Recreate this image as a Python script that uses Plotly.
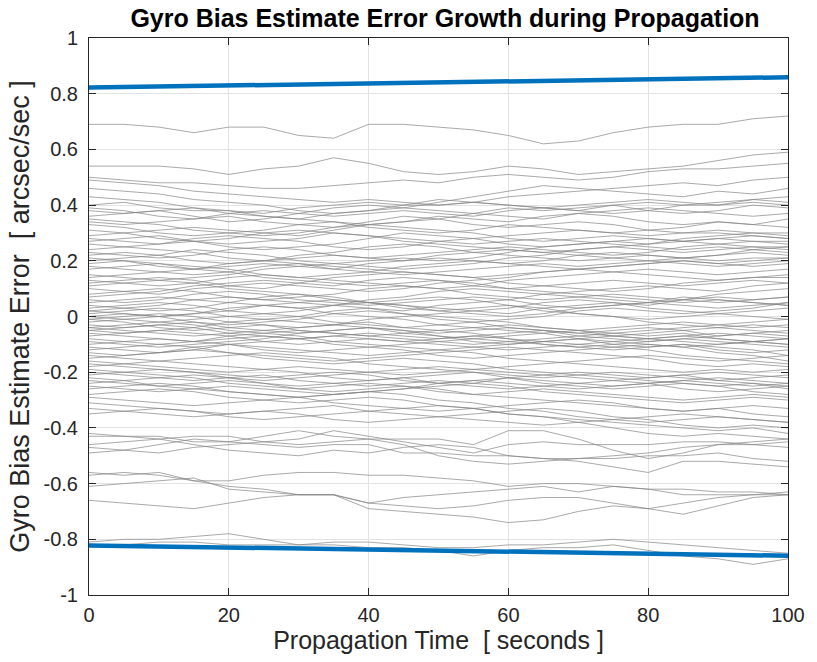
import plotly.graph_objects as go

# ---------------- data ----------------
time_s = [0, 5, 10, 15, 20, 25, 30, 35, 40, 45, 50, 55, 60, 65, 70, 75, 80, 85, 90, 95, 100]

bound_time = [0, 50, 100]
bound_upper = [0.822, 0.841, 0.859]
bound_lower = [-0.822, -0.841, -0.859]

runs_upper = [
    [0.69,0.69,0.68,0.66,0.68,0.68,0.65,0.64,0.69,0.69,0.68,0.67,0.65,0.62,0.63,0.66,0.68,0.69,0.69,0.71,0.72],
    [0.54,0.54,0.54,0.53,0.51,0.53,0.54,0.57,0.55,0.52,0.51,0.52,0.54,0.53,0.51,0.52,0.53,0.54,0.56,0.58,0.59],
    [0.50,0.49,0.48,0.48,0.47,0.46,0.46,0.47,0.48,0.49,0.48,0.50,0.51,0.50,0.49,0.50,0.52,0.53,0.53,0.54,0.55],
    [0.49,0.48,0.47,0.45,0.44,0.43,0.42,0.41,0.42,0.41,0.40,0.41,0.43,0.44,0.45,0.46,0.47,0.48,0.47,0.49,0.50],
    [0.46,0.45,0.44,0.42,0.41,0.40,0.38,0.37,0.38,0.39,0.41,0.43,0.45,0.47,0.46,0.45,0.44,0.43,0.45,0.44,0.46],
    [0.43,0.42,0.41,0.39,0.37,0.36,0.35,0.37,0.38,0.40,0.42,0.41,0.40,0.39,0.38,0.40,0.41,0.40,0.41,0.42,0.43],
    [0.40,0.41,0.39,0.38,0.38,0.37,0.39,0.40,0.41,0.40,0.40,0.41,0.40,0.39,0.38,0.37,0.38,0.40,0.40,0.41,0.40],
    [0.38,0.37,0.38,0.36,0.34,0.35,0.37,0.39,0.40,0.39,0.38,0.37,0.36,0.35,0.37,0.38,0.39,0.38,0.37,0.36,0.37],
    [0.39,0.38,0.36,0.35,0.36,0.34,0.33,0.32,0.34,0.36,0.35,0.37,0.39,0.38,0.39,0.40,0.38,0.37,0.38,0.40,0.39],
    [0.36,0.37,0.38,0.39,0.38,0.36,0.35,0.34,0.33,0.34,0.36,0.35,0.34,0.36,0.37,0.36,0.34,0.33,0.34,0.33,0.32],
    [0.34,0.33,0.34,0.35,0.37,0.38,0.37,0.36,0.37,0.38,0.37,0.36,0.38,0.39,0.40,0.41,0.42,0.41,0.40,0.42,0.41],
    [0.35,0.34,0.33,0.31,0.30,0.29,0.30,0.32,0.33,0.32,0.31,0.30,0.28,0.27,0.28,0.29,0.28,0.27,0.28,0.29,0.28],
    [0.33,0.32,0.30,0.29,0.30,0.31,0.33,0.34,0.32,0.31,0.30,0.31,0.33,0.32,0.31,0.30,0.31,0.32,0.34,0.33,0.35],
    [0.31,0.30,0.28,0.27,0.26,0.27,0.28,0.30,0.29,0.27,0.26,0.25,0.24,0.23,0.24,0.25,0.24,0.23,0.24,0.25,0.24],
    [0.29,0.30,0.31,0.32,0.31,0.30,0.29,0.31,0.33,0.34,0.35,0.33,0.32,0.33,0.34,0.33,0.31,0.30,0.30,0.29,0.28],
    [0.28,0.27,0.26,0.28,0.29,0.28,0.27,0.25,0.24,0.25,0.27,0.28,0.29,0.30,0.31,0.30,0.29,0.30,0.31,0.30,0.30],
    [0.27,0.28,0.29,0.27,0.25,0.24,0.25,0.26,0.28,0.30,0.29,0.28,0.26,0.25,0.26,0.27,0.28,0.27,0.26,0.27,0.26],
    [0.26,0.25,0.24,0.23,0.21,0.20,0.19,0.18,0.17,0.16,0.15,0.14,0.15,0.16,0.17,0.16,0.15,0.14,0.13,0.14,0.15],
]

runs_middle = [
    [0.24,0.25,0.26,0.27,0.28,0.30,0.31,0.30,0.29,0.28,0.27,0.26,0.27,0.28,0.27,0.26,0.25,0.24,0.25,0.24,0.23],
    [0.23,0.22,0.21,0.22,0.24,0.25,0.24,0.22,0.21,0.22,0.23,0.24,0.25,0.24,0.23,0.22,0.23,0.25,0.26,0.25,0.25],
    [0.22,0.23,0.22,0.20,0.19,0.20,0.22,0.23,0.25,0.26,0.25,0.23,0.22,0.21,0.20,0.21,0.22,0.21,0.20,0.21,0.21],
    [0.21,0.20,0.18,0.17,0.18,0.19,0.18,0.17,0.19,0.20,0.21,0.20,0.19,0.20,0.22,0.23,0.22,0.21,0.22,0.23,0.22],
    [0.20,0.21,0.22,0.24,0.23,0.22,0.20,0.19,0.18,0.17,0.18,0.19,0.21,0.22,0.24,0.25,0.26,0.27,0.28,0.27,0.27],
    [0.19,0.20,0.19,0.17,0.16,0.14,0.13,0.12,0.11,0.12,0.13,0.12,0.10,0.09,0.08,0.07,0.06,0.05,0.06,0.05,0.04],
    [0.18,0.17,0.16,0.15,0.16,0.18,0.19,0.17,0.16,0.15,0.16,0.17,0.18,0.19,0.18,0.19,0.20,0.19,0.18,0.19,0.20],
    [0.17,0.18,0.19,0.18,0.17,0.15,0.14,0.15,0.16,0.18,0.19,0.20,0.19,0.18,0.17,0.18,0.19,0.20,0.19,0.18,0.19],
    [0.15,0.14,0.13,0.14,0.15,0.17,0.18,0.19,0.20,0.21,0.20,0.21,0.23,0.25,0.26,0.27,0.26,0.28,0.29,0.30,0.29],
    [0.14,0.15,0.16,0.17,0.19,0.20,0.21,0.22,0.21,0.20,0.22,0.23,0.24,0.23,0.22,0.21,0.20,0.21,0.22,0.24,0.25],
    [0.13,0.12,0.11,0.12,0.14,0.15,0.14,0.13,0.12,0.11,0.10,0.11,0.13,0.14,0.15,0.16,0.17,0.16,0.15,0.16,0.17],
    [0.12,0.13,0.14,0.13,0.11,0.10,0.12,0.14,0.15,0.16,0.15,0.14,0.12,0.11,0.10,0.09,0.10,0.12,0.13,0.14,0.14],
    [0.11,0.12,0.13,0.12,0.10,0.09,0.08,0.06,0.05,0.06,0.07,0.06,0.04,0.02,0.01,0.00,-0.02,-0.03,-0.04,-0.03,-0.04],
    [0.10,0.09,0.08,0.10,0.11,0.12,0.11,0.10,0.09,0.10,0.12,0.13,0.14,0.16,0.17,0.18,0.19,0.20,0.19,0.20,0.21],
    [0.08,0.09,0.10,0.09,0.07,0.06,0.07,0.08,0.10,0.11,0.10,0.08,0.07,0.06,0.07,0.08,0.07,0.06,0.05,0.06,0.07],
    [0.07,0.08,0.09,0.11,0.12,0.13,0.12,0.11,0.13,0.14,0.13,0.11,0.10,0.11,0.12,0.13,0.12,0.11,0.12,0.13,0.12],
    [0.06,0.05,0.06,0.08,0.09,0.08,0.06,0.05,0.04,0.05,0.06,0.07,0.06,0.04,0.03,0.04,0.05,0.04,0.03,0.04,0.05],
    [0.05,0.06,0.07,0.06,0.05,0.04,0.03,0.04,0.06,0.07,0.09,0.10,0.09,0.08,0.07,0.06,0.05,0.06,0.08,0.09,0.10],
    [0.04,0.03,0.02,0.03,0.05,0.07,0.08,0.07,0.05,0.04,0.03,0.02,0.03,0.05,0.06,0.05,0.03,0.02,0.01,0.02,0.03],
    [0.03,0.04,0.05,0.04,0.02,0.01,0.02,0.04,0.05,0.04,0.02,0.01,0.00,0.01,0.03,0.04,0.05,0.07,0.06,0.05,0.04],
    [0.02,0.01,0.00,0.01,0.02,0.04,0.05,0.06,0.05,0.03,0.02,0.03,0.04,0.03,0.01,0.00,-0.01,0.00,0.01,0.00,-0.01],
    [0.02,0.03,0.04,0.06,0.07,0.06,0.05,0.04,0.03,0.01,0.00,-0.01,-0.02,-0.04,-0.05,-0.06,-0.07,-0.06,-0.08,-0.09,-0.08],
    [0.01,0.02,0.03,0.02,0.00,-0.01,0.00,0.02,0.03,0.02,0.04,0.05,0.06,0.08,0.09,0.10,0.11,0.10,0.09,0.11,0.12],
    [0.00,-0.01,-0.02,-0.01,0.00,0.01,0.00,-0.02,-0.03,-0.04,-0.03,-0.02,-0.04,-0.05,-0.06,-0.05,-0.04,-0.05,-0.07,-0.06,-0.05],
    [0.00,0.01,0.00,-0.02,-0.03,-0.02,-0.01,0.01,0.02,0.01,-0.01,-0.02,-0.01,0.00,0.02,0.03,0.02,0.01,0.02,0.03,0.05],
    [-0.01,-0.02,-0.04,-0.05,-0.04,-0.03,-0.05,-0.06,-0.07,-0.06,-0.05,-0.06,-0.08,-0.09,-0.08,-0.07,-0.08,-0.09,-0.10,-0.09,-0.08],
    [-0.01,0.00,0.01,0.00,-0.02,-0.03,-0.04,-0.03,-0.01,0.00,0.01,0.02,0.01,0.03,0.04,0.05,0.04,0.06,0.07,0.06,0.07],
    [-0.02,-0.01,0.00,0.01,0.03,0.04,0.03,0.01,0.00,-0.01,-0.03,-0.04,-0.05,-0.06,-0.05,-0.07,-0.08,-0.07,-0.06,-0.07,-0.08],
    [-0.03,-0.04,-0.03,-0.02,-0.04,-0.05,-0.06,-0.05,-0.04,-0.05,-0.07,-0.08,-0.07,-0.06,-0.08,-0.10,-0.11,-0.10,-0.12,-0.13,-0.12],
    [-0.04,-0.05,-0.06,-0.07,-0.06,-0.05,-0.04,-0.03,-0.04,-0.06,-0.07,-0.09,-0.10,-0.09,-0.08,-0.09,-0.10,-0.11,-0.10,-0.09,-0.10],
    [-0.04,-0.03,-0.02,-0.03,-0.05,-0.06,-0.07,-0.09,-0.10,-0.11,-0.12,-0.11,-0.10,-0.09,-0.10,-0.11,-0.12,-0.14,-0.15,-0.16,-0.17],
    [-0.05,-0.04,-0.03,-0.04,-0.06,-0.07,-0.08,-0.07,-0.06,-0.07,-0.08,-0.07,-0.06,-0.05,-0.06,-0.07,-0.06,-0.05,-0.04,-0.05,-0.06],
    [-0.05,-0.06,-0.05,-0.04,-0.02,-0.01,-0.02,-0.03,-0.02,-0.04,-0.05,-0.04,-0.03,-0.04,-0.05,-0.04,-0.03,-0.02,-0.03,-0.02,-0.01],
    [-0.06,-0.07,-0.08,-0.09,-0.08,-0.07,-0.08,-0.10,-0.11,-0.10,-0.09,-0.08,-0.09,-0.10,-0.11,-0.12,-0.11,-0.10,-0.11,-0.12,-0.14],
    [-0.07,-0.06,-0.05,-0.06,-0.07,-0.09,-0.10,-0.09,-0.08,-0.09,-0.10,-0.11,-0.12,-0.11,-0.10,-0.09,-0.08,-0.07,-0.08,-0.09,-0.10],
    [-0.08,-0.09,-0.10,-0.09,-0.07,-0.06,-0.05,-0.06,-0.07,-0.08,-0.09,-0.10,-0.09,-0.08,-0.07,-0.06,-0.05,-0.04,-0.03,-0.04,-0.03],
    [-0.09,-0.10,-0.11,-0.10,-0.09,-0.08,-0.06,-0.05,-0.04,-0.05,-0.06,-0.05,-0.04,-0.05,-0.07,-0.08,-0.09,-0.08,-0.09,-0.10,-0.11],
    [-0.10,-0.09,-0.08,-0.09,-0.10,-0.12,-0.13,-0.12,-0.11,-0.12,-0.14,-0.15,-0.14,-0.13,-0.12,-0.11,-0.10,-0.11,-0.13,-0.14,-0.16],
    [-0.11,-0.12,-0.13,-0.12,-0.10,-0.09,-0.08,-0.07,-0.08,-0.09,-0.08,-0.07,-0.08,-0.10,-0.11,-0.10,-0.09,-0.08,-0.07,-0.06,-0.07],
    [-0.12,-0.11,-0.10,-0.11,-0.13,-0.14,-0.15,-0.16,-0.15,-0.14,-0.13,-0.12,-0.11,-0.12,-0.13,-0.14,-0.15,-0.17,-0.18,-0.17,-0.18],
    [-0.13,-0.14,-0.13,-0.11,-0.10,-0.11,-0.12,-0.13,-0.14,-0.13,-0.12,-0.13,-0.15,-0.16,-0.17,-0.18,-0.19,-0.20,-0.19,-0.20,-0.19],
    [-0.14,-0.15,-0.16,-0.15,-0.14,-0.13,-0.14,-0.15,-0.17,-0.18,-0.19,-0.20,-0.21,-0.22,-0.21,-0.20,-0.21,-0.22,-0.23,-0.22,-0.21],
    [-0.15,-0.14,-0.13,-0.12,-0.13,-0.15,-0.16,-0.17,-0.16,-0.15,-0.16,-0.17,-0.19,-0.20,-0.21,-0.22,-0.23,-0.24,-0.25,-0.24,-0.26],
    [-0.16,-0.17,-0.18,-0.19,-0.20,-0.19,-0.18,-0.19,-0.20,-0.21,-0.20,-0.19,-0.18,-0.17,-0.16,-0.15,-0.14,-0.15,-0.16,-0.15,-0.14],
    [-0.17,-0.18,-0.19,-0.20,-0.21,-0.22,-0.21,-0.20,-0.21,-0.23,-0.24,-0.23,-0.22,-0.23,-0.24,-0.25,-0.24,-0.23,-0.22,-0.23,-0.24],
    [-0.18,-0.17,-0.16,-0.17,-0.18,-0.19,-0.20,-0.22,-0.23,-0.22,-0.21,-0.20,-0.22,-0.24,-0.25,-0.26,-0.25,-0.24,-0.25,-0.27,-0.28],
    [-0.19,-0.20,-0.21,-0.22,-0.24,-0.25,-0.26,-0.25,-0.24,-0.25,-0.27,-0.28,-0.27,-0.26,-0.27,-0.28,-0.29,-0.30,-0.29,-0.28,-0.29],
    [-0.20,-0.21,-0.22,-0.23,-0.22,-0.21,-0.23,-0.24,-0.25,-0.24,-0.23,-0.24,-0.22,-0.21,-0.20,-0.21,-0.22,-0.21,-0.20,-0.21,-0.22],
    [-0.21,-0.20,-0.19,-0.20,-0.22,-0.24,-0.25,-0.24,-0.23,-0.22,-0.24,-0.25,-0.26,-0.25,-0.24,-0.23,-0.24,-0.26,-0.27,-0.26,-0.25],
    [-0.22,-0.23,-0.25,-0.24,-0.23,-0.24,-0.26,-0.27,-0.26,-0.25,-0.26,-0.28,-0.29,-0.30,-0.31,-0.32,-0.33,-0.34,-0.33,-0.35,-0.36],
    [-0.23,-0.24,-0.25,-0.26,-0.27,-0.28,-0.29,-0.28,-0.27,-0.26,-0.24,-0.23,-0.24,-0.25,-0.26,-0.25,-0.24,-0.23,-0.24,-0.25,-0.24],
    [-0.24,-0.23,-0.22,-0.21,-0.22,-0.23,-0.22,-0.21,-0.20,-0.19,-0.18,-0.19,-0.20,-0.21,-0.22,-0.23,-0.22,-0.21,-0.23,-0.24,-0.25],
    [-0.25,-0.26,-0.27,-0.26,-0.25,-0.26,-0.27,-0.28,-0.27,-0.26,-0.25,-0.24,-0.25,-0.27,-0.28,-0.29,-0.30,-0.31,-0.30,-0.29,-0.30],
    [-0.26,-0.25,-0.24,-0.25,-0.27,-0.28,-0.29,-0.31,-0.32,-0.33,-0.34,-0.33,-0.35,-0.36,-0.37,-0.38,-0.39,-0.40,-0.41,-0.40,-0.42],
    [-0.28,-0.27,-0.26,-0.27,-0.29,-0.30,-0.31,-0.30,-0.29,-0.30,-0.32,-0.33,-0.32,-0.31,-0.30,-0.31,-0.33,-0.34,-0.33,-0.32,-0.33],
    [-0.29,-0.30,-0.31,-0.32,-0.31,-0.30,-0.29,-0.28,-0.27,-0.28,-0.30,-0.31,-0.33,-0.34,-0.36,-0.37,-0.38,-0.37,-0.36,-0.37,-0.38],
    [-0.31,-0.32,-0.33,-0.34,-0.35,-0.34,-0.33,-0.32,-0.34,-0.35,-0.36,-0.35,-0.34,-0.33,-0.34,-0.36,-0.37,-0.39,-0.40,-0.39,-0.40],
    [-0.33,-0.34,-0.35,-0.36,-0.35,-0.34,-0.35,-0.37,-0.38,-0.37,-0.36,-0.37,-0.38,-0.39,-0.38,-0.37,-0.36,-0.35,-0.36,-0.37,-0.38],
    [-0.35,-0.34,-0.33,-0.34,-0.36,-0.37,-0.36,-0.35,-0.34,-0.33,-0.32,-0.33,-0.35,-0.36,-0.38,-0.40,-0.42,-0.43,-0.42,-0.43,-0.44],
]

runs_lower = [
    [-0.42,-0.43,-0.43,-0.45,-0.45,-0.43,-0.41,-0.43,-0.44,-0.44,-0.44,-0.46,-0.41,-0.41,-0.44,-0.48,-0.51,-0.49,-0.46,-0.46,-0.45],
    [-0.46,-0.45,-0.44,-0.46,-0.48,-0.49,-0.50,-0.48,-0.49,-0.47,-0.46,-0.47,-0.50,-0.51,-0.52,-0.54,-0.56,-0.52,-0.52,-0.53,-0.54],
    [-0.49,-0.48,-0.46,-0.44,-0.45,-0.46,-0.47,-0.46,-0.46,-0.49,-0.49,-0.50,-0.50,-0.51,-0.51,-0.50,-0.49,-0.47,-0.46,-0.45,-0.44],
    [-0.43,-0.43,-0.44,-0.43,-0.43,-0.45,-0.46,-0.45,-0.44,-0.46,-0.50,-0.52,-0.53,-0.52,-0.51,-0.51,-0.50,-0.50,-0.49,-0.51,-0.52],
    [-0.47,-0.48,-0.49,-0.47,-0.46,-0.45,-0.44,-0.41,-0.43,-0.45,-0.47,-0.49,-0.46,-0.45,-0.46,-0.46,-0.46,-0.45,-0.45,-0.46,-0.47],
    [-0.56,-0.57,-0.56,-0.59,-0.59,-0.57,-0.56,-0.56,-0.57,-0.57,-0.58,-0.59,-0.61,-0.60,-0.60,-0.61,-0.62,-0.62,-0.63,-0.63,-0.64],
    [-0.61,-0.60,-0.59,-0.58,-0.62,-0.63,-0.64,-0.64,-0.67,-0.65,-0.64,-0.63,-0.62,-0.61,-0.63,-0.61,-0.62,-0.64,-0.64,-0.64,-0.63],
    [-0.66,-0.67,-0.68,-0.69,-0.67,-0.65,-0.64,-0.64,-0.69,-0.70,-0.71,-0.72,-0.74,-0.73,-0.70,-0.68,-0.69,-0.67,-0.65,-0.64,-0.64],
    [-0.57,-0.56,-0.57,-0.59,-0.61,-0.62,-0.64,-0.64,-0.67,-0.68,-0.69,-0.68,-0.66,-0.65,-0.65,-0.67,-0.69,-0.71,-0.68,-0.65,-0.64],
    [-0.81,-0.80,-0.80,-0.79,-0.78,-0.80,-0.82,-0.82,-0.83,-0.83,-0.84,-0.86,-0.84,-0.83,-0.83,-0.82,-0.84,-0.86,-0.87,-0.89,-0.87],
    [-0.82,-0.82,-0.81,-0.81,-0.82,-0.82,-0.82,-0.81,-0.81,-0.82,-0.83,-0.83,-0.82,-0.82,-0.81,-0.80,-0.81,-0.82,-0.83,-0.84,-0.85],
]

x_tick_vals = [0, 20, 40, 60, 80, 100]
x_tick_text = ["0", "20", "40", "60", "80", "100"]
y_tick_vals = [-1, -0.8, -0.6, -0.4, -0.2, 0, 0.2, 0.4, 0.6, 0.8, 1]
y_tick_text = ["-1", "-0.8", "-0.6", "-0.4", "-0.2", "0", "0.2", "0.4", "0.6", "0.8", "1"]

title_text = "Gyro Bias Estimate Error Growth during Propagation"
x_label = "Propagation Time  [ seconds ]"
y_label = "Gyro Bias Estimate Error  [ arcsec/sec ]"

# ---------------- figure ----------------
FONT = "Liberation Sans, Arial, Helvetica, sans-serif"
INK = "#262626"
GRAY = "rgb(132,132,132)"
BLUE = "#0072BD"

fig = go.Figure()
for group in (runs_upper, runs_middle, runs_lower):
    for run in group:
        fig.add_trace(go.Scatter(x=time_s, y=run, mode="lines",
                                 line=dict(color=GRAY, width=0.7),
                                 hoverinfo="skip", showlegend=False))

for bnd in (bound_upper, bound_lower):
    fig.add_trace(go.Scatter(x=bound_time, y=bnd, mode="lines",
                             line=dict(color=BLUE, width=4.5),
                             hoverinfo="skip", showlegend=False))

axis_common = dict(
    showline=True, linecolor=INK, linewidth=1, mirror="ticks",
    ticks="inside", ticklen=7, tickcolor=INK, tickwidth=1,
    showgrid=True, gridcolor="#e3e3e3", gridwidth=1,
    zeroline=False, tickfont=dict(family=FONT, size=20, color=INK),
)

fig.update_layout(
    width=817, height=662,
    margin=dict(l=89, r=22, t=38, b=67),
    paper_bgcolor="white", plot_bgcolor="white",
    title=dict(text="<b>" + title_text + "</b>", x=0.5447, xanchor="center",
               y=0.972, yanchor="middle",
               font=dict(family=FONT, size=25, color="black")),
    xaxis=dict(range=[0, 100], tickvals=x_tick_vals, ticktext=x_tick_text,
               ticklabelstandoff=2,
               title=dict(text=x_label, font=dict(family=FONT, size=25, color=INK), standoff=4),
               **axis_common),
    yaxis=dict(range=[-1, 1], tickvals=y_tick_vals, ticktext=y_tick_text,
               ticklabelstandoff=6,
               title=dict(text=y_label, font=dict(family=FONT, size=27, color=INK), standoff=6),
               **axis_common),
    showlegend=False,
)

fig.write_html("out.html")
